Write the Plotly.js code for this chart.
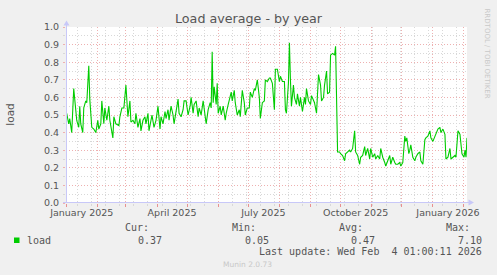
<!DOCTYPE html>
<html>
<head>
<meta charset="utf-8">
<script src="https://cdn.plot.ly/plotly-3.0.1.min.js"></script>
<style>html,body{margin:0;padding:0;background:#f0f0f0;}#chart{width:497px;height:275px;}</style>
</head>
<body>
<div id="chart"></div>
<script>
// Day offsets from 2025-01-01
const loadDays = [0,2,3,5,7,8,10,12,13,14,16,17,19,20,22,23,25,27,29,31,32,34,35,37,38,40,42,43,46,47,49,52,53,55,57,59,61,63,64,66,68,69,71,73,74,76,78,79,81,82,84,85,87,89,91,93,94,96,98,99,101,102,104,106,107,109,111,112,114,116,117,119,121,123,124,126,127,129,131,132,134,136,137,139,141,143,144,145,146,147,149,150,151,153,154,156,158,159,161,163,164,165,167,168,170,172,173,175,177,178,180,182,183,185,187,188,190,192,193,195,197,198,200,202,
203,205,207,208,210,212,213,215,217,218,219,221,222,223,224,226,227,229,230,232,233,235,237,238,239,241,243,244,246,247,249,250,251,253,254,256,257,259,260,262,263,265,267,268,269,270,272,273,275,277,278,280,282,283,285,287,288,290,292,293,295,297,298,300,302,303,305,307,308,310,312,313,315,317,318,320,322,323,325,327,328,330,332,333,335,337,338,339,341,342,343,345,347,348,350,352,353,355,357,358,360,362,363,365,367,368,370,372,373,375,377,378,380,382,383,385,387,388,390,391,392,394,396,397,398,399];
const loadValues = [0.51,0.45,0.48,0.40,0.65,0.60,0.47,0.43,0.55,0.45,0.40,0.54,0.58,0.57,0.78,0.59,0.43,0.42,0.40,0.47,0.42,0.45,0.58,0.45,0.54,0.47,0.55,0.47,0.37,0.49,0.45,0.44,0.49,0.54,0.54,0.67,0.49,0.58,0.46,0.47,0.45,0.51,0.43,0.48,0.41,0.47,0.49,0.45,0.51,0.41,0.47,0.50,0.43,0.47,0.55,0.42,0.49,0.45,0.52,0.48,0.53,0.47,0.55,0.50,0.45,0.53,0.59,0.51,0.49,0.53,0.58,0.58,0.50,0.55,0.60,0.51,0.56,0.58,0.49,0.54,0.50,0.58,0.54,0.45,0.53,0.57,0.54,0.86,0.57,0.66,0.56,0.68,0.51,0.55,0.50,0.55,0.47,0.51,0.56,0.61,0.63,0.58,0.64,0.57,0.50,0.53,0.49,0.64,0.57,0.50,0.54,0.54,0.63,0.60,0.65,0.64,0.70,0.60,0.48,0.57,0.58,0.70,0.69,0.71,
0.71,0.68,0.53,0.76,0.76,0.69,0.72,0.69,0.69,0.53,0.51,0.68,0.91,0.70,0.55,0.67,0.60,0.56,0.62,0.55,0.60,0.52,0.60,0.56,0.65,0.58,0.56,0.61,0.58,0.57,0.51,0.66,0.73,0.67,0.58,0.60,0.67,0.75,0.62,0.63,0.84,0.85,0.84,0.89,0.66,0.29,0.29,0.28,0.27,0.24,0.28,0.29,0.30,0.29,0.31,0.41,0.29,0.27,0.22,0.26,0.27,0.32,0.27,0.31,0.25,0.31,0.26,0.28,0.25,0.27,0.25,0.31,0.26,0.23,0.21,0.24,0.27,0.22,0.26,0.23,0.22,0.22,0.23,0.21,0.23,0.38,0.35,0.37,0.28,0.30,0.33,0.26,0.24,0.26,0.28,0.29,0.24,0.22,0.36,0.37,0.38,0.41,0.37,0.35,0.38,0.40,0.42,0.43,0.40,0.42,0.39,0.25,0.26,0.31,0.25,0.26,0.27,0.26,0.41,0.40,0.39,0.28,0.26,0.30,0.26,0.37];
const startDate = Date.UTC(2025, 0, 1);
const xLabelDates = ['2025-01-16','2025-04-16','2025-07-16','2025-10-16','2026-01-16'];
const xLabelText = ['January 2025','April 2025','July 2025','October 2025','January 2026'];
const statHeaders = ['Cur:','Min:','Avg:','Max:'];
const statValues = ['0.37','0.05','0.47','7.10'];
const seriesName = 'load';
const lastUpdate = 'Last update: Wed Feb\u00a0 4 01:00:11 2026';

const xDates = loadDays.map(d => new Date(startDate + d * 86400000).toISOString().slice(0, 10));

// pixel -> paper helpers (plot area: x 66..467, y 27..203)
const L = 66, W = 401, B = 203, H = 176;
const px = p => (p - L) / W;
const py = p => (B - p) / H;

const range = ['2024-12-31 07:00', '2026-02-04 00:00'];
const axisCol = '#c8c8f8';
const mono = 'DejaVu Sans Mono';
const sans = 'DejaVu Sans';
const txt = '#555555';
const majorGrid = '#eeb0b0';
const minorGrid = '#d8d8d8';

const annotations = [];
const hdrX = [150, 257, 363.5, 470.5];
const valX = [163, 269.5, 375.7, 482.7];
statHeaders.forEach((h, i) => annotations.push({xref:'paper', yref:'paper', x:px(hdrX[i]), y:py(227.7), xanchor:'right', yanchor:'middle', text:h, showarrow:false, font:{family:mono, size:10, color:txt}, borderpad:0}));
statValues.forEach((v, i) => annotations.push({xref:'paper', yref:'paper', x:px(valX[i]), y:py(240.3), xanchor:'right', yanchor:'middle', text:v, showarrow:false, font:{family:mono, size:10, color:txt}, borderpad:0}));
annotations.push({xref:'paper', yref:'paper', x:px(26), y:py(240.3), xanchor:'left', yanchor:'middle', text:seriesName, showarrow:false, font:{family:mono, size:10, color:txt}, borderpad:0});
annotations.push({xref:'paper', yref:'paper', x:px(482.7), y:py(251.7), xanchor:'right', yanchor:'middle', text:lastUpdate, showarrow:false, font:{family:mono, size:10, color:txt}, borderpad:0});
annotations.push({xref:'paper', yref:'paper', x:px(247.5), y:py(264), xanchor:'center', yanchor:'middle', text:'Munin 2.0.73', showarrow:false, font:{family:sans, size:7.5, color:'#c8c8c8'}, borderpad:0});
annotations.push({xref:'paper', yref:'paper', x:px(486.5), y:py(53), xanchor:'center', yanchor:'middle', text:'RRDTOOL / TOBI OETIKER', textangle:90, showarrow:false, font:{family:sans, size:7, color:'#c8c8c8'}, borderpad:0});
annotations.push({xref:'paper', yref:'paper', x:px(10), y:py(114.7), xanchor:'center', yanchor:'middle', text:'load', textangle:-90, showarrow:false, font:{family:sans, size:10.5, color:txt}, borderpad:0});

const shapes = [
  {type:'line', xref:'paper', yref:'paper', x0:px(66.5), x1:px(66.5), y0:0, y1:py(25), line:{color:axisCol, width:1}},
  {type:'path', xref:'paper', yref:'paper', path:`M ${px(63.5)},${py(25.5)} L ${px(66.5)},${py(20.5)} L ${px(69.5)},${py(25.5)} Z`, fillcolor:axisCol, line:{color:axisCol, width:0}},
  {type:'line', xref:'paper', yref:'paper', x0:px(63), x1:px(469), y0:py(202.5), y1:py(202.5), line:{color:axisCol, width:1}},
  {type:'path', xref:'paper', yref:'paper', path:`M ${px(468.5)},${py(199.5)} L ${px(474)},${py(202.5)} L ${px(468.5)},${py(205.5)} Z`, fillcolor:axisCol, line:{color:axisCol, width:0}},
  {type:'rect', xref:'paper', yref:'paper', x0:px(14), x1:px(19.5), y0:py(237.5), y1:py(243), fillcolor:'#00cc00', line:{width:0}}
];

const trace = {x:xDates, y:loadValues, type:'scatter', mode:'lines', line:{color:'#00cc00', width:1.1}, hoverinfo:'skip', showlegend:false};
// carrier so that the label axis is drawn (no visible points)
const labelAxisTrace = {x:xLabelDates, y:xLabelDates.map(() => null), xaxis:'x2', yaxis:'y', type:'scatter', mode:'lines', hoverinfo:'skip', showlegend:false};

const layout = {
  width:497, height:275,
  paper_bgcolor:'#f0f0f0', plot_bgcolor:'#ffffff',
  margin:{l:L, r:497-L-W, t:27, b:275-B},
  showlegend:false,
  title:{text:'Load average - by year', xref:'container', x:0.5, xanchor:'center', yref:'container', y:1-19/275, yanchor:'middle', font:{family:sans, size:12.7, color:txt}},
  xaxis:{type:'date', range:range, tick0:'2025-01-01', dtick:'M1', showticklabels:false,
    showgrid:true, gridcolor:majorGrid, griddash:'1px,2px', gridwidth:1,
    ticks:'outside', ticklen:3, tickcolor:'#e89090', tickwidth:1,
    minor:{tick0:'2025-01-12', dtick:14*86400000, showgrid:true, gridcolor:minorGrid, griddash:'1px,2px', gridwidth:1, ticks:'outside', ticklen:2, tickcolor:minorGrid},
    zeroline:false, showline:false, fixedrange:true},
  xaxis2:{type:'date', range:range, overlaying:'x', anchor:'y', side:'bottom',
    tickmode:'array', tickvals:xLabelDates, ticktext:xLabelText, ticks:'', showgrid:false, zeroline:false, showline:false,
    tickfont:{family:sans, size:9.5, color:txt}, ticklabelstandoff:2, fixedrange:true},
  yaxis:{range:[0,1], tick0:0, dtick:0.1, tickformat:'.1f',
    showgrid:true, gridcolor:majorGrid, griddash:'1px,2px', gridwidth:1,
    ticks:'outside', ticklen:2, tickcolor:majorGrid,
    minor:{dtick:0.05, showgrid:true, gridcolor:minorGrid, griddash:'1px,2px', gridwidth:1, ticks:'outside', ticklen:2, tickcolor:minorGrid},
    tickfont:{family:sans, size:9.5, color:txt}, ticklabelstandoff:2,
    zeroline:false, showline:false, fixedrange:true},
  annotations:annotations,
  shapes:shapes
};

Plotly.newPlot('chart', [trace, labelAxisTrace], layout, {displayModeBar:false, staticPlot:true});
</script>
</body>
</html>
